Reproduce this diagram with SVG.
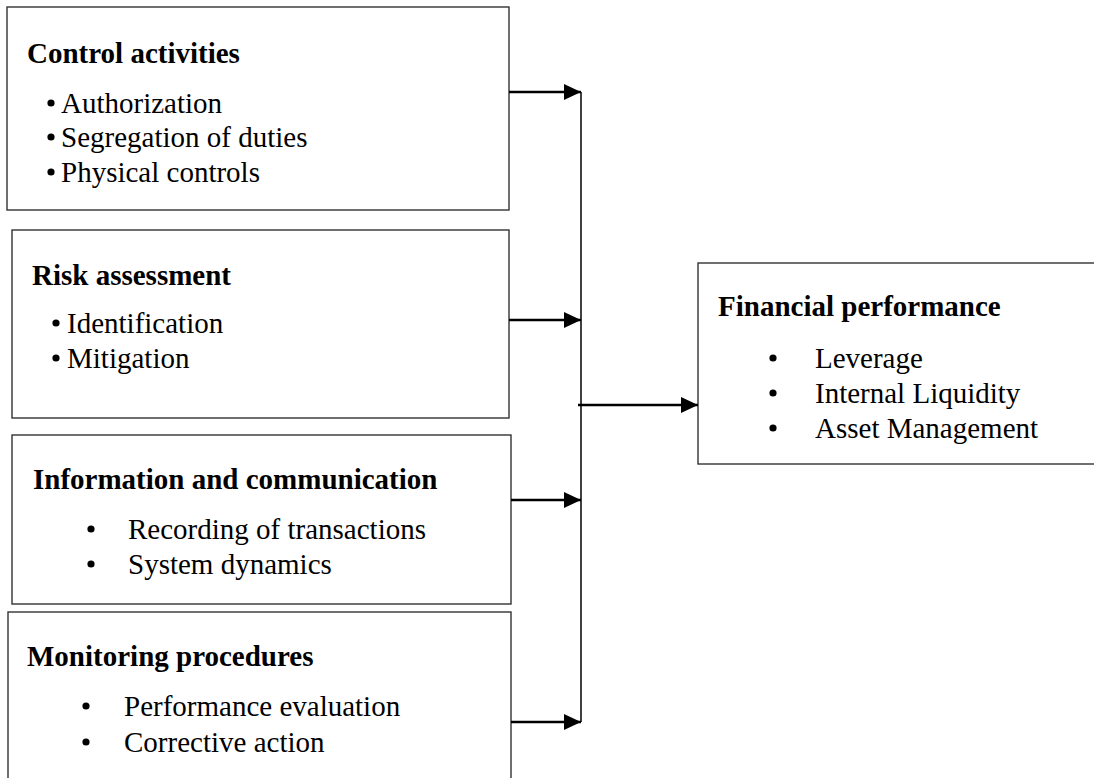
<svg xmlns="http://www.w3.org/2000/svg" width="1094" height="778" viewBox="0 0 1094 778">
<style>
.box{fill:#fff;stroke:#333;stroke-width:1.4}
.h{font-family:"Liberation Serif","Times New Roman",serif;font-weight:bold;font-size:29px;fill:#000}
.t{font-family:"Liberation Serif","Times New Roman",serif;font-size:29px;fill:#000}
.dot{fill:#000}
.arr{stroke:#000;stroke-width:2.6;fill:none}
.vl{stroke:#000;stroke-width:1.5;fill:none}
</style>
<defs>
<marker id="ah" markerUnits="userSpaceOnUse" markerWidth="17" markerHeight="16" refX="17" refY="8" orient="auto">
<path d="M0,0 L17,8 L0,16 z" fill="#000"/>
</marker>
</defs>
<rect width="1094" height="778" fill="#fff"/>
<g id="control">
<rect class="box" x="7" y="7" width="502" height="203"/>
<text class="h" x="27" y="63">Control activities</text>
<circle class="dot" cx="51" cy="103" r="3.6"/><text class="t" x="61" y="113">Authorization</text>
<circle class="dot" cx="51" cy="137" r="3.6"/><text class="t" x="61" y="147">Segregation of duties</text>
<circle class="dot" cx="51" cy="172" r="3.6"/><text class="t" x="61" y="182">Physical controls</text>
</g>
<g id="risk">
<rect class="box" x="12" y="230" width="497" height="188"/>
<text class="h" x="32" y="285">Risk assessment</text>
<circle class="dot" cx="56" cy="323" r="3.6"/><text class="t" x="67" y="333">Identification</text>
<circle class="dot" cx="56" cy="358" r="3.6"/><text class="t" x="67" y="368">Mitigation</text>
</g>
<g id="info">
<rect class="box" x="12" y="435" width="499" height="169"/>
<text class="h" x="33" y="489">Information and communication</text>
<circle class="dot" cx="91" cy="529" r="3.6"/><text class="t" x="128" y="539">Recording of transactions</text>
<circle class="dot" cx="91" cy="564" r="3.6"/><text class="t" x="128" y="574">System dynamics</text>
</g>
<g id="monitoring">
<rect class="box" x="8" y="612" width="503" height="200"/>
<text class="h" x="27" y="666">Monitoring procedures</text>
<circle class="dot" cx="86" cy="706" r="3.6"/><text class="t" x="124" y="716">Performance evaluation</text>
<circle class="dot" cx="86" cy="742" r="3.6"/><text class="t" x="124" y="752">Corrective action</text>
</g>
<g id="financial">
<rect class="box" x="698" y="263" width="420" height="201"/>
<text class="h" x="718" y="316">Financial performance</text>
<circle class="dot" cx="773" cy="358" r="3.6"/><text class="t" x="815" y="368">Leverage</text>
<circle class="dot" cx="773" cy="393" r="3.6"/><text class="t" x="815" y="403">Internal Liquidity</text>
<circle class="dot" cx="773" cy="428" r="3.6"/><text class="t" x="815" y="438">Asset Management</text>
</g>
<g id="connectors">
<line class="vl" x1="581" y1="92" x2="581" y2="722"/>
<line class="arr" x1="509" y1="92" x2="581" y2="92" marker-end="url(#ah)"/>
<line class="arr" x1="509" y1="320" x2="581" y2="320" marker-end="url(#ah)"/>
<line class="arr" x1="511" y1="500" x2="581" y2="500" marker-end="url(#ah)"/>
<line class="arr" x1="511" y1="722" x2="581" y2="722" marker-end="url(#ah)"/>
<line class="arr" x1="578" y1="405" x2="698" y2="405" marker-end="url(#ah)"/>
</g>
</svg>
